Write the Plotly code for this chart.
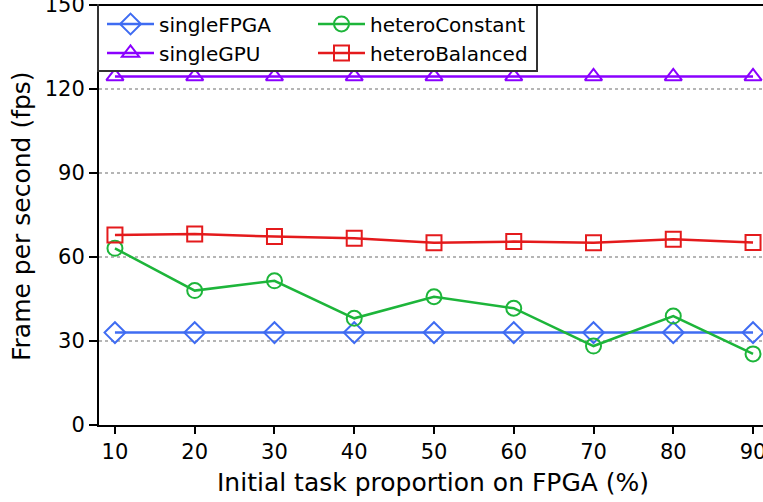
import plotly.graph_objects as go

x_vals = [10, 20, 30, 40, 50, 60, 70, 80, 90]
single_fpga = [33.0, 33.0, 33.0, 33.0, 33.0, 33.0, 33.0, 33.0, 33.0]
single_gpu = [124.5, 124.5, 124.5, 124.5, 124.5, 124.5, 124.5, 124.5, 124.5]
hetero_constant = [63.1, 48.0, 51.5, 38.1, 45.8, 41.7, 28.2, 38.9, 25.4]
hetero_balanced = [67.9, 68.2, 67.3, 66.7, 65.1, 65.5, 65.1, 66.3, 65.2]
y_ticks = [0, 30, 60, 90, 120, 150]

FONT = "DejaVu Sans"
W, H = 763, 502
L, R, T, B = 99, 0, 5, 77
pw, ph = W - L - R, H - T - B

def px2paper(px, py):
    return (px - L) / pw, (H - B - py) / ph

series = [
    ("singleFPGA", single_fpga, "#3f6cf2", "diamond-open", 16, "legend"),
    ("singleGPU", single_gpu, "#8a00ff", "triangle-up-open", 15, "legend2"),
    ("heteroConstant", hetero_constant, "#1db53a", "circle-open", 15, "legend3"),
    ("heteroBalanced", hetero_balanced, "#e41a1c", "square-open", 15, "legend4"),
]

fig = go.Figure()
for name, ys, col, sym, sz, lg in series:
    fig.add_trace(go.Scatter(
        x=x_vals, y=ys, name=name, mode="lines+markers",
        line=dict(color=col, width=2.5),
        marker=dict(symbol=sym, size=sz, color=col, line=dict(color=col, width=2)),
        legend=lg, cliponaxis=False,
    ))

leg_pos = {
    "legend": (102, 24),
    "legend2": (102, 53),
    "legend3": (313, 24),
    "legend4": (313, 53),
}
legends = {}
for k, (lx, ly) in leg_pos.items():
    px_, py_ = px2paper(lx, ly)
    legends[k] = dict(x=px_, y=py_, xanchor="left", yanchor="middle",
                      bgcolor="rgba(0,0,0,0)", borderwidth=0,
                      font=dict(family=FONT, size=20, color="black"),
                      itemwidth=47)

bx0, by0 = px2paper(98, 71)
bx1, by1 = px2paper(537, 5)
fig.add_shape(type="rect", xref="paper", yref="paper", x0=bx0, y0=by0, x1=bx1, y1=by1,
              line=dict(color="#333333", width=2), fillcolor="white", layer="above")
fig.add_shape(type="line", xref="paper", yref="paper", x0=0, y0=1, x1=1, y1=1,
              line=dict(color="black", width=2), layer="above")

# axis titles as annotations for precise placement
ytx, yty = px2paper(21, 216)
xtx, xty = px2paper(433, 482)
fig.add_annotation(text="Frame per second (fps)", xref="paper", yref="paper",
                   x=ytx, y=yty, xanchor="center", yanchor="middle", textangle=-90,
                   showarrow=False, font=dict(family=FONT, size=25, color="black"))
fig.add_annotation(text="Initial task proportion on FPGA (%)", xref="paper", yref="paper",
                   x=xtx, y=xty, xanchor="center", yanchor="middle",
                   showarrow=False, font=dict(family=FONT, size=25, color="black"))

fig.update_layout(
    width=W, height=H,
    margin=dict(l=L, r=R, t=T, b=B, autoexpand=False),
    paper_bgcolor="white", plot_bgcolor="white",
    font=dict(family=FONT, size=20, color="black"),
    showlegend=True,
    **legends,
)
fig.update_xaxes(
    range=[8.0, 91.25], tickvals=x_vals, ticktext=[str(v) for v in x_vals],
    showgrid=False, zeroline=False, automargin=False, ticklabeloverflow="allow",
    showline=True, linecolor="black", linewidth=2,
    ticks="outside", ticklen=7, tickwidth=2, tickcolor="black",
    tickfont=dict(family=FONT, size=21, color="black"),
)
fig.update_yaxes(
    range=[0, 150], tickvals=y_ticks, ticktext=[str(v) for v in y_ticks],
    showgrid=True, gridcolor="#b5b5b5", gridwidth=2, griddash="dot",
    zeroline=False, automargin=False, ticklabeloverflow="allow",
    showline=True, linecolor="black", linewidth=2,
    ticks="outside", ticklen=8, tickwidth=2, tickcolor="black",
    tickfont=dict(family=FONT, size=21, color="black"),
)

fig.write_html("out.html", config={"displayModeBar": False},
               post_script="document.body.style.margin='0';document.body.style.overflow='hidden';")
